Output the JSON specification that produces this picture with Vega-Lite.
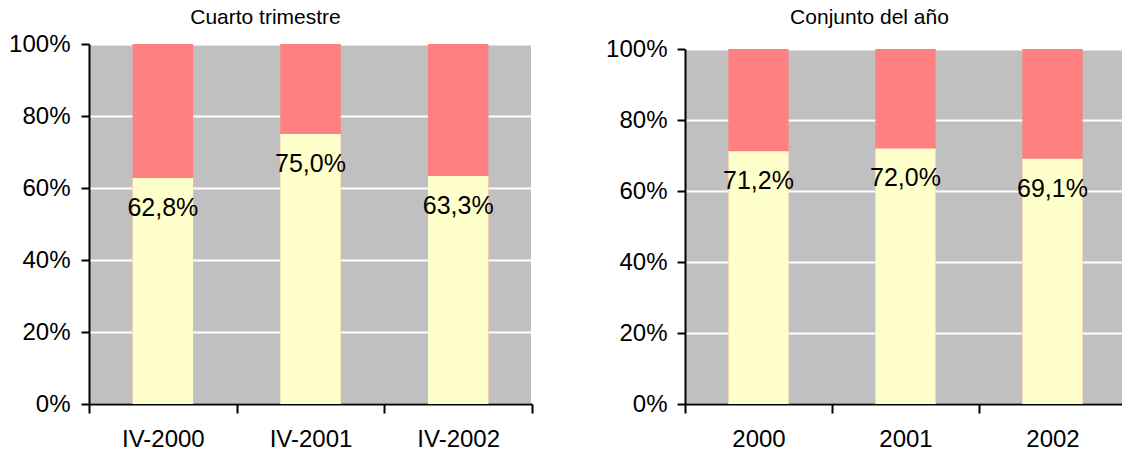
{
  "$schema": "https://vega.github.io/schema/vega-lite/v6.json",
  "padding": {"left": 7, "top": 6, "right": 0, "bottom": 0},
  "config": {
    "locale": {"number": {"decimal": ",", "thousands": ".", "grouping": [3], "currency": ["", " €"]}},
    "font": "Liberation Sans",
    "view": {"fill": "#C0C0C0", "stroke": "#FFFFFF", "strokeWidth": 2},
    "axis": {"domainColor": "#000000", "domainWidth": 2, "tickColor": "#000000", "tickWidth": 2, "labelColor": "#000000", "labelFont": "Liberation Sans", "labelFontSize": 24, "title": null},
    "title": {"font": "Liberation Sans", "fontSize": 21, "fontWeight": "normal", "color": "#000000"},
    "concat": {"spacing": 70}
  },
  "datasets": {
    "trimestre": [
      {"periodo": "IV-2000", "cuota": 0.628},
      {"periodo": "IV-2001", "cuota": 0.750},
      {"periodo": "IV-2002", "cuota": 0.633}
    ],
    "anio": [
      {"periodo": "2000", "cuota": 0.712},
      {"periodo": "2001", "cuota": 0.720},
      {"periodo": "2002", "cuota": 0.691}
    ]
  },
  "hconcat": [
    {
      "width": 443,
      "height": 360,
      "title": {"text": "Cuarto trimestre", "dx": -45, "offset": 4},
      "data": {"name": "trimestre"},
      "encoding": {
        "x": {"field": "periodo", "type": "nominal", "sort": null, "scale": {"paddingInner": 0, "paddingOuter": 0}, "axis": {"tickBand": "extent", "labelAngle": 0, "tickSize": 9, "labelPadding": 14, "grid": false}}
      },
      "layer": [
        {"mark": {"type": "bar", "color": "#FF8080", "width": {"band": 0.41}}, "encoding": {"y": {"datum": 1, "type": "quantitative", "scale": {"domain": [0, 1]}, "axis": {"values": [0, 0.2, 0.4, 0.6, 0.8, 1], "format": ".0%", "grid": true, "gridColor": "#FFFFFF", "gridWidth": 2, "gridOpacity": 1, "tickSize": 8, "labelPadding": 11}}}},
        {"mark": {"type": "bar", "color": "#FFFFCC", "width": {"band": 0.41}}, "encoding": {"y": {"field": "cuota", "type": "quantitative"}}},
        {"mark": {"type": "text", "dy": 30, "fontSize": 25, "baseline": "middle", "color": "#000000"}, "encoding": {"y": {"field": "cuota", "type": "quantitative"}, "text": {"field": "cuota", "type": "quantitative", "format": ".1%"}}}
      ]
    },
    {
      "width": 441,
      "height": 360,
      "title": {"text": "Conjunto del año", "dx": -36, "offset": 9},
      "data": {"name": "anio"},
      "layer": [
        {"mark": {"type": "rect", "color": "#FFFFFF"}, "encoding": {"y": {"datum": 1, "type": "quantitative", "scale": {"domain": [0, 1], "range": [360, 5]}, "axis": {"values": [0, 0.2, 0.4, 0.6, 0.8, 1], "format": ".0%", "grid": true, "gridColor": "#FFFFFF", "gridWidth": 2, "gridOpacity": 1, "tickSize": 8, "labelPadding": 10}}, "y2": {"datum": 1.0142}}},
        {"mark": {"type": "bar", "color": "#FF8080", "width": {"band": 0.41}}, "encoding": {"x": {"field": "periodo", "type": "nominal", "sort": null, "scale": {"paddingInner": 0, "paddingOuter": 0}, "axis": {"tickBand": "extent", "labelAngle": 0, "tickSize": 9, "labelPadding": 14, "grid": false}}, "y": {"datum": 1, "type": "quantitative"}}},
        {"mark": {"type": "bar", "color": "#FFFFCC", "width": {"band": 0.41}}, "encoding": {"x": {"field": "periodo", "type": "nominal", "sort": null}, "y": {"field": "cuota", "type": "quantitative"}}},
        {"mark": {"type": "text", "dy": 30, "fontSize": 25, "baseline": "middle", "color": "#000000"}, "encoding": {"x": {"field": "periodo", "type": "nominal", "sort": null}, "y": {"field": "cuota", "type": "quantitative"}, "text": {"field": "cuota", "type": "quantitative", "format": ".1%"}}}
      ]
    }
  ]
}
